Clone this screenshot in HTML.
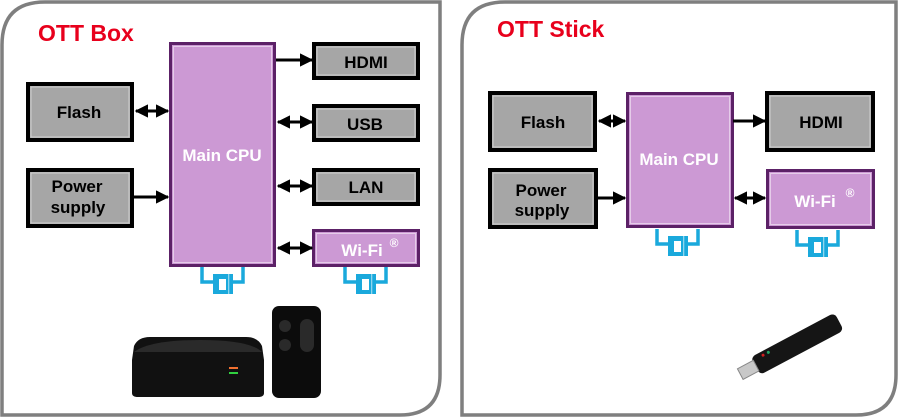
<!DOCTYPE html>
<html><head><meta charset="utf-8"><style>
html,body{margin:0;padding:0;background:#fff;width:900px;height:419px;overflow:hidden}
svg{display:block}
text{font-family:"Liberation Sans",sans-serif;font-weight:bold}
</style></head><body>
<svg width="900" height="419" viewBox="0 0 900 419" xmlns="http://www.w3.org/2000/svg">
<defs>
<marker id="ah" viewBox="0 0 10 10" refX="9" refY="5" markerWidth="4.5" markerHeight="4.5" orient="auto-start-reverse"><path d="M0,0 L10,5 L0,10 z" fill="#000"/></marker>
<g id="ant">
<path d="M2,0 V15 H13 M43,0 V15 H32" fill="none" stroke="#1aa9dc" stroke-width="3.5"/>
<rect x="13" y="7" width="20" height="20" fill="#1aa9dc"/>
<rect x="19" y="12" width="7" height="11" fill="#fff"/>
<rect x="28" y="7" width="1.3" height="20" fill="#8fd6ee"/>
</g>
</defs>
<!-- panels -->
<path d="M2,415 V45 Q2,2 45,2 H440 V375 Q440,415 400,415 Z" fill="#fff" stroke="#7f7f7f" stroke-width="3.5"/>
<path d="M462,415 V45 Q462,2 505,2 H896 V375 Q896,415 856,415 Z" fill="#fff" stroke="#7f7f7f" stroke-width="3.5"/>
<text x="38" y="41" fill="#e8001c" font-size="23">OTT Box</text>
<text x="497" y="37" fill="#e8001c" font-size="23">OTT Stick</text>

<!-- left -->
<g stroke="#000" stroke-width="4" fill="#a6a6a6">
<rect x="28" y="84" width="104" height="56"/>
<rect x="28" y="170" width="104" height="56"/>
<rect x="314" y="44" width="104" height="34"/>
<rect x="314" y="106" width="104" height="34"/>
<rect x="314" y="170" width="104" height="34"/>
</g>
<g fill="none" stroke="#d0d0d0" stroke-width="1">
<rect x="31" y="87" width="98" height="50"/><rect x="31" y="173" width="98" height="50"/>
<rect x="317" y="47" width="98" height="28"/><rect x="317" y="109" width="98" height="28"/><rect x="317" y="173" width="98" height="28"/>
</g>
<rect x="170.5" y="43.5" width="104" height="222" fill="#cc99d4" stroke="#5c2167" stroke-width="3"/>
<rect x="173.5" y="46.5" width="98" height="216" fill="none" stroke="#e5cce9" stroke-width="1"/>
<rect x="313.5" y="230.5" width="105" height="35" fill="#cc99d4" stroke="#5c2167" stroke-width="3"/>
<rect x="316.5" y="233.5" width="99" height="29" fill="none" stroke="#e5cce9" stroke-width="1"/>
<g font-size="17" fill="#000" text-anchor="middle">
<text x="79" y="118">Flash</text>
<text x="77" y="192">Power</text><text x="78" y="213">supply</text>
<text x="366" y="68">HDMI</text><text x="365" y="130">USB</text><text x="366" y="193">LAN</text>
</g>
<text x="222" y="161" font-size="17" fill="#fff" text-anchor="middle">Main CPU</text>
<text x="362" y="256" font-size="17" fill="#fff" text-anchor="middle">Wi-Fi</text><text x="394" y="247" font-size="12" fill="#fff" text-anchor="middle">®</text>
<g stroke="#000" stroke-width="3" marker-end="url(#ah)">
<line x1="136" y1="111" x2="168" y2="111" marker-start="url(#ah)"/>
<line x1="134" y1="197" x2="168" y2="197"/>
<line x1="276" y1="60" x2="312" y2="60"/>
<line x1="278" y1="122" x2="312" y2="122" marker-start="url(#ah)"/>
<line x1="278" y1="186" x2="312" y2="186" marker-start="url(#ah)"/>
<line x1="278" y1="248" x2="312" y2="248" marker-start="url(#ah)"/>
</g>
<use href="#ant" x="200" y="267"/>
<use href="#ant" x="343" y="267"/>

<!-- right -->
<g stroke="#000" stroke-width="4" fill="#a6a6a6">
<rect x="490" y="93" width="105" height="57"/>
<rect x="490" y="170" width="106" height="57"/>
<rect x="767" y="93" width="106" height="57"/>
</g>
<g fill="none" stroke="#d0d0d0" stroke-width="1">
<rect x="493" y="96" width="99" height="51"/><rect x="493" y="173" width="100" height="51"/><rect x="770" y="96" width="100" height="51"/>
</g>
<rect x="627.5" y="93.5" width="105" height="133" fill="#cc99d4" stroke="#5c2167" stroke-width="3"/>
<rect x="630.5" y="96.5" width="99" height="127" fill="none" stroke="#e5cce9" stroke-width="1"/>
<rect x="767.5" y="170.5" width="106" height="57" fill="#cc99d4" stroke="#5c2167" stroke-width="3"/>
<rect x="770.5" y="173.5" width="100" height="51" fill="none" stroke="#e5cce9" stroke-width="1"/>
<g font-size="17" fill="#000" text-anchor="middle">
<text x="543" y="128">Flash</text>
<text x="541" y="196">Power</text><text x="542" y="216">supply</text>
<text x="821" y="128">HDMI</text>
</g>
<text x="679" y="165" font-size="17" fill="#fff" text-anchor="middle">Main CPU</text>
<text x="815" y="207" font-size="17" fill="#fff" text-anchor="middle">Wi-Fi</text><text x="850" y="197" font-size="12" fill="#fff" text-anchor="middle">®</text>
<g stroke="#000" stroke-width="3" marker-end="url(#ah)">
<line x1="599" y1="121" x2="625" y2="121" marker-start="url(#ah)"/>
<line x1="597" y1="198" x2="625" y2="198"/>
<line x1="733" y1="121" x2="765" y2="121"/>
<line x1="735" y1="198" x2="765" y2="198" marker-start="url(#ah)"/>
</g>
<use href="#ant" x="655" y="229"/>
<use href="#ant" x="795" y="230"/>

<!-- devices -->
<path d="M134,346 Q138,337 150,337 H246 Q258,337 262,346 L264,360 V393 Q264,397 258,397 H138 Q132,397 132,393 V360 Z" fill="#111"/>
<path d="M134,352 Q150,340 200,340 Q250,340 262,352 Z" fill="#2a2a2a"/>
<rect x="229" y="367" width="9" height="2" fill="#f07030"/>
<rect x="229" y="372" width="9" height="2" fill="#30d040"/>
<rect x="272" y="306" width="49" height="92" rx="7" fill="#0c0c0c"/>
<circle cx="285" cy="326" r="6" fill="#2a2a2a"/><circle cx="285" cy="345" r="6" fill="#2a2a2a"/>
<rect x="300" y="319" width="14" height="33" rx="7" fill="#2a2a2a"/>
<g transform="translate(795,345) rotate(-28)">
<rect x="-45" y="-10" width="95" height="20" rx="5" fill="#151515"/>
<rect x="-62" y="-6" width="18" height="12" fill="#c8c8c8" stroke="#888" stroke-width="1"/>
<circle cx="-33" cy="-6" r="1.5" fill="#d02020"/><circle cx="-27" cy="-6" r="1.5" fill="#20a060"/>
</g>
</svg>
</body></html>
